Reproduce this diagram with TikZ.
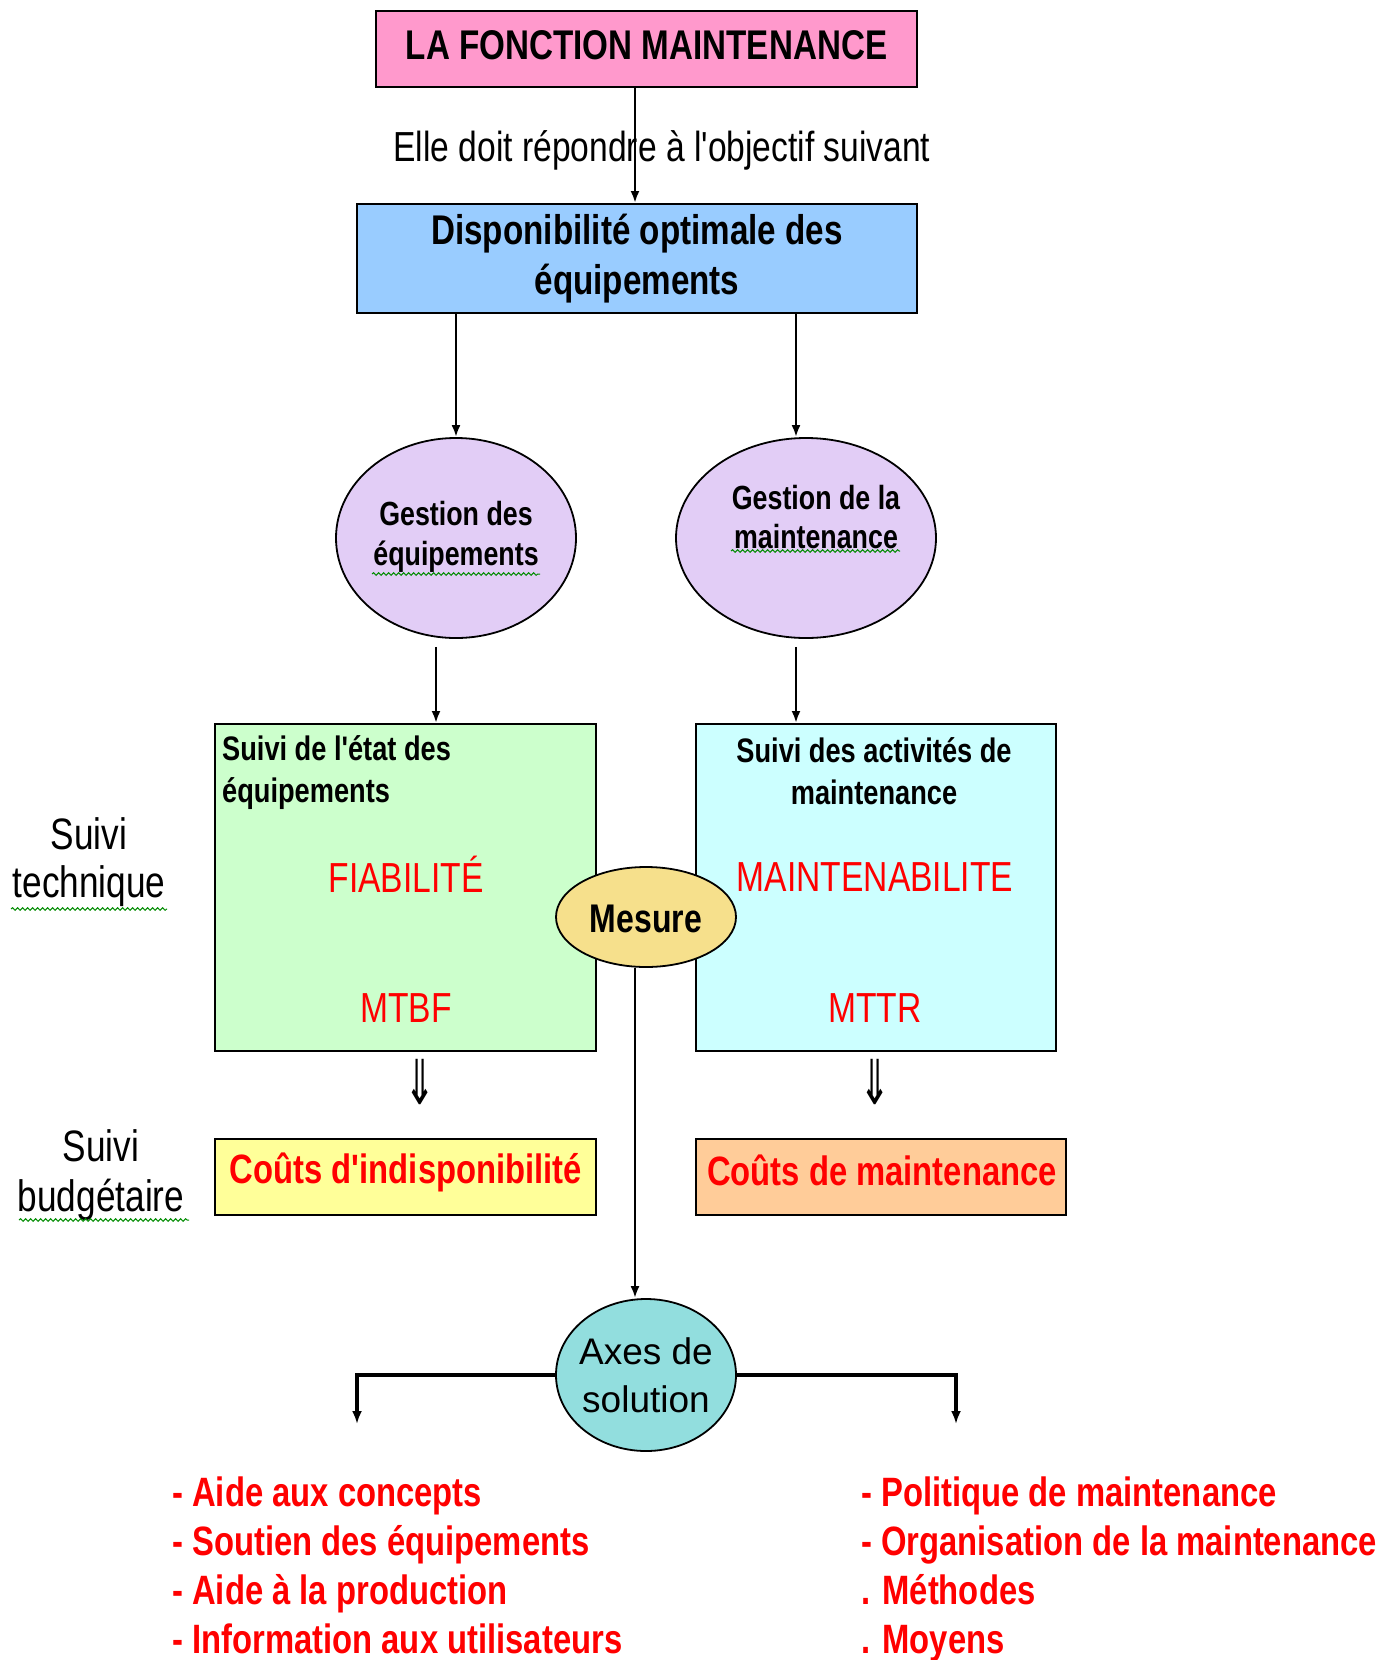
\documentclass[tikz,border=0pt]{standalone}
\usepackage{fontspec}
\setmainfont{Liberation Sans}
\newfontfamily\cn{Liberation Sans}[FakeStretch=0.8]
\newfontfamily\dv{DejaVu Sans}
\usetikzlibrary{arrows.meta,decorations.pathmorphing,shapes.geometric}
\definecolor{cpink}{HTML}{FF99CC}
\definecolor{cblue}{HTML}{99CCFF}
\definecolor{cgreen}{HTML}{CCFFCC}
\definecolor{ccyan}{HTML}{CCFFFF}
\definecolor{cyel}{HTML}{FFFF99}
\definecolor{corange}{HTML}{FFCC99}
\definecolor{clav}{HTML}{E2CDF6}
\definecolor{cmes}{HTML}{F6E08C}
\definecolor{caxe}{HTML}{92DEDE}
\definecolor{cred}{HTML}{FF0000}
\newcommand{\fs}[1]{\fontsize{#1}{#1}\selectfont}
\tikzset{
  bx/.style={draw=black, line width=2pt, inner sep=0pt},
  ell/.style={ellipse, draw=black, line width=1.8pt, inner sep=0pt},
  txt/.style={inner sep=0pt},
  arr/.style={-{Latex[length=12pt,width=9pt]}, line width=2.4pt},
  thickarr/.style={-{Latex[length=13pt,width=10pt]}, line width=3.2pt},
  squig/.style={draw=green!55!black, line width=1pt, decorate,
     decoration={snake, amplitude=1.3pt, segment length=5pt}},
}
\begin{document}
\begin{tikzpicture}[x=1pt,y=-1pt]
\useasboundingbox[fill=white] (0,0) rectangle (1400,1660);

% top box
\node[bx, fill=cpink, minimum width=541pt, minimum height=76pt] (top) at (646.5,49)
  {\raisebox{8pt}{\cn\bfseries\fs{41.5}LA FONCTION MAINTENANCE}};

% objective label
\node[txt, font=\cn\fs{42}] (obj) at (662,150) {Elle doit répondre à l'objectif suivant};

% blue box
\node[bx, fill=cblue, minimum width=560pt, minimum height=109pt, align=center,
  font=\cn\bfseries\fontsize{41.5}{50}\selectfont] (dispo) at (637,258.5)
  {Disponibilité optimale des\\équipements};
\draw[arr] ([xshift=-11.5pt]top.south) -- ([xshift=-11.5pt]top.south |- dispo.north);

% ellipses
\node[ell, fill=clav, minimum width=240pt, minimum height=200pt] (e1) at (456,538) {};
\node[txt, align=center, font=\cn\bfseries\fontsize{33.5}{40}\selectfont] (e1t) at (456,537)
  {Gestion des\\équipements};
\node[ell, fill=clav, minimum width=260pt, minimum height=200pt] (e2) at (806,538) {};
\node[txt, align=center, font=\cn\bfseries\fontsize{33.5}{39}\selectfont] (e2t) at (816,517)
  {Gestion de la\\maintenance};
\draw[squig] (372,574) -- (540,574);
\draw[squig] (731,551) -- (900,551);

\coordinate (c2) at ([xshift=-10pt]e2.north);
\draw[arr] (dispo.south -| e1.north) -- (e1.north);
\draw[arr] (dispo.south -| c2) -- (c2);

% boxes
\node[bx, fill=cgreen, minimum width=381pt, minimum height=327pt] (gbox) at (405.5,887.5) {};
\node[bx, fill=ccyan, minimum width=360pt, minimum height=327pt] (cbox) at (876,887.5) {};
\coordinate (d1) at ([xshift=-20pt,yshift=-8pt]e1.south);
\coordinate (d2) at ([xshift=-10pt,yshift=-8pt]e2.south);
\draw[arr] (d1) -- (d1 |- gbox.north);
\draw[arr] (d2) -- (d2 |- cbox.north);

\node[txt, anchor=west, align=left, font=\cn\bfseries\fontsize{34}{42}\selectfont] (gt) at (222,773)
  {Suivi de l'état des\\équipements};
\node[txt, align=center, font=\cn\bfseries\fontsize{34}{42}\selectfont] (ct) at (874,771)
  {Suivi des activités de\\maintenance};
\node[txt, text=cred, font=\cn\fs{42}] (fia) at (406,874) {FIABILITÉ};
\node[txt, text=cred, font=\cn\fs{42}] (mtbf) at (406,1008) {MTBF};
\node[txt, text=cred, font=\cn\fs{42}] (mai) at (875,877) {MAINTENABILITE};
\node[txt, text=cred, font=\cn\fs{42}] (mttr) at (875,1008) {MTTR};

% Mesure
\node[ell, fill=cmes, minimum width=180pt, minimum height=100pt] (mes) at (646,917) {};
\node[txt, font=\cn\bfseries\fs{40}] (mest) at (646,919) {Mesure};

% side labels
\node[txt, align=center, font=\cn\fontsize{44}{48}\selectfont] (st) at (89,862) {Suivi\\technique};
\node[txt, align=center, font=\cn\fontsize{44}{50}\selectfont] (sb) at (101,1175) {Suivi\\budgétaire};
\draw[squig] (11,909) -- (167,909);
\draw[squig] (19,1220) -- (189,1220);

% double arrows
\node[txt, font=\dv\fs{62}] (da1) at (420,1082) {\scalebox{0.6}[1]{⇓}};
\node[txt, font=\dv\fs{62}] (da2) at (875,1082) {\scalebox{0.6}[1]{⇓}};

% cost boxes
\node[bx, fill=cyel, minimum width=381pt, minimum height=76pt] (cout1) at (405.5,1177) {};
\node[txt, text=cred, font=\cn\bfseries\fs{41}] (cout1t) at (406,1172) {Coûts d'indisponibilité};
\node[bx, fill=corange, minimum width=370pt, minimum height=76pt] (cout2) at (881,1177) {};
\node[txt, text=cred, font=\cn\bfseries\fs{41}] (cout2t) at (882,1170) {Coûts de maintenance};

% Axes de solution
\node[ell, fill=caxe, minimum width=180pt, minimum height=152pt] (axes) at (646,1375) {};
\node[txt, align=center, font=\fontsize{37}{48}\selectfont] (axest) at (646,1375) {Axes de\\solution};
\draw[arr] ([xshift=-11pt]mes.south) -- ([xshift=-11pt]mes.south |- axes.north);
\coordinate (la) at (357,1424);
\coordinate (ra) at (956,1424);
\draw[thickarr] (axes.west) -| (la);
\draw[thickarr] (axes.east) -| (ra);

% lists
\node[txt, anchor=north west, align=left, text=cred,
  font=\cn\bfseries\fontsize{41}{49}\selectfont] (l1) at (172,1477)
  {- Aide aux concepts\\- Soutien des équipements\\- Aide à la production\\- Information aux utilisateurs};
\node[txt, anchor=north west, align=left, text=cred,
  font=\cn\bfseries\fontsize{41}{49}\selectfont] (l2) at (861,1477)
  {- Politique de maintenance\\- Organisation de la maintenance\\. Méthodes\\. Moyens};
\end{tikzpicture}
\end{document}
